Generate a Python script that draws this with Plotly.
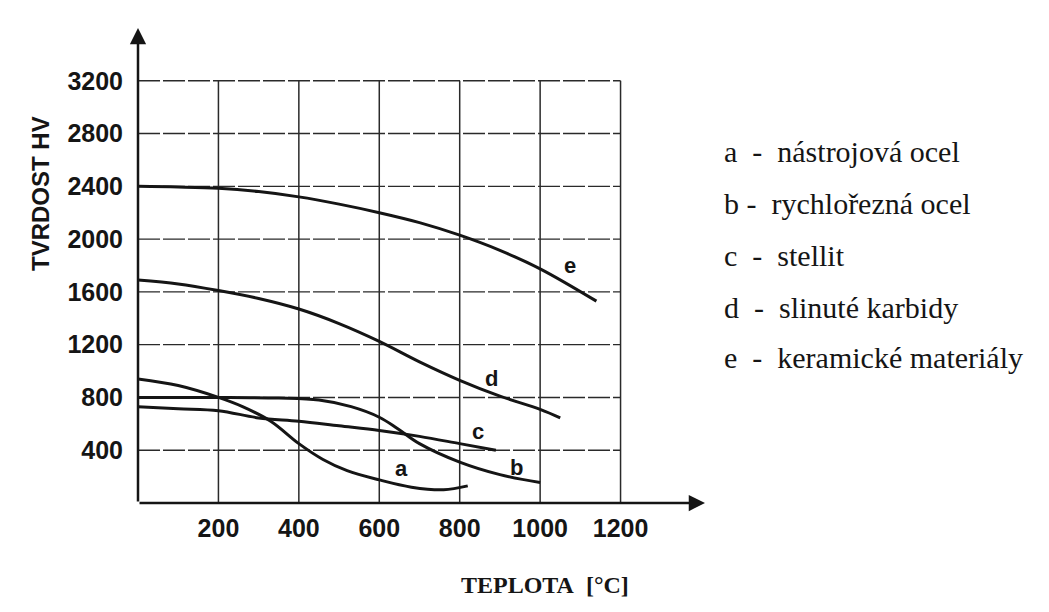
import plotly.graph_objects as go

# ---- data ----
a_x = [0, 100, 200, 260, 330, 400, 460, 520, 600, 680, 760, 820]
a_y = [940, 890, 800, 730, 620, 450, 330, 245, 175, 120, 100, 130]

b_x = [0, 200, 350, 450, 530, 600, 645, 700, 800, 900, 1000]
b_y = [800, 800, 795, 780, 730, 650, 565, 450, 310, 215, 155]

c_x = [0, 100, 200, 300, 400, 500, 600, 700, 800, 890]
c_y = [730, 715, 700, 645, 620, 585, 550, 505, 450, 400]

d_x = [0, 100, 200, 300, 400, 500, 600, 700, 800, 900, 1000, 1050]
d_y = [1690, 1660, 1610, 1550, 1470, 1360, 1225, 1070, 930, 810, 710, 645]

e_x = [0, 100, 200, 300, 400, 500, 600, 700, 800, 900, 1000, 1140]
e_y = [2400, 2395, 2385, 2360, 2320, 2265, 2200, 2125, 2030, 1915, 1775, 1530]

curve_names = ["a", "b", "c", "d", "e"]
label_x = [655, 940, 845, 880, 1075]
label_y = [260, 270, 540, 940, 1800]

x_ticks = [200, 400, 600, 800, 1000, 1200]
y_ticks = [400, 800, 1200, 1600, 2000, 2400, 2800, 3200]

legend_lines = [
    "a\u00a0\u00a0-\u00a0\u00a0nástrojová ocel",
    "b\u00a0-\u00a0\u00a0rychlořezná ocel",
    "c\u00a0\u00a0-\u00a0\u00a0stellit",
    "d\u00a0\u00a0-\u00a0\u00a0slinuté karbidy",
    "e\u00a0\u00a0-\u00a0\u00a0keramické materiály",
]

x_title = "TEPLOTA\u00a0\u00a0[°C]"
y_title = "TVRDOST HV"

X_MAX, Y_MAX = 1410, 3600
GRID_X_MAX, GRID_Y_MAX = 1200, 3200

INK = "#151515"
fig = go.Figure()

for xs, ys in [(a_x, a_y), (b_x, b_y), (c_x, c_y), (d_x, d_y), (e_x, e_y)]:
    fig.add_trace(go.Scatter(x=xs, y=ys, mode="lines",
                             line=dict(color=INK, width=3, shape="spline", smoothing=1.0),
                             showlegend=False, hoverinfo="skip"))

# grid
for gx in x_ticks:
    fig.add_shape(type="line", xref="x", yref="y", x0=gx, x1=gx, y0=0, y1=GRID_Y_MAX,
                  line=dict(color="#2a2a2a", width=1.5), layer="below")
for gy in y_ticks:
    fig.add_shape(type="line", xref="x", yref="y", x0=0, x1=GRID_X_MAX, y0=gy, y1=gy,
                  line=dict(color="#2a2a2a", width=1.4, dash="22px,3px"), layer="below")

# axes with arrows
fig.add_annotation(x=0, y=Y_MAX, ax=0, ay=0, xref="x", yref="y", axref="x", ayref="y",
                   text="", showarrow=True, arrowhead=2, arrowsize=1.3, arrowwidth=2.5,
                   arrowcolor=INK)
fig.add_annotation(x=X_MAX, y=0, ax=0, ay=0, xref="x", yref="y", axref="x", ayref="y",
                   text="", showarrow=True, arrowhead=2, arrowsize=1.3, arrowwidth=2.5,
                   arrowcolor=INK)

# curve labels
for name, lx, ly in zip(curve_names, label_x, label_y):
    fig.add_annotation(x=lx, y=ly, xref="x", yref="y", text=name, showarrow=False,
                       xanchor="center", yanchor="middle",
                       font=dict(family="Liberation Sans", size=22, color=INK, weight=700))

# legend text (right side)
PLOT_L, PLOT_R, PLOT_T, PLOT_B = 138, 705, 28, 503
pw, ph = PLOT_R - PLOT_L, PLOT_B - PLOT_T
leg_y_px = [152, 203, 255, 307, 357]
for txt, py in zip(legend_lines, leg_y_px):
    fig.add_annotation(x=(722 - PLOT_L) / pw, y=(PLOT_B - py) / ph, xref="paper", yref="paper",
                       xanchor="left", yanchor="middle", text=txt, showarrow=False,
                       font=dict(family="Liberation Serif", size=30, color=INK))

# axis titles
fig.add_annotation(x=(545 - PLOT_L) / pw, y=(PLOT_B - 585) / ph, xref="paper", yref="paper",
                   xanchor="center", yanchor="middle",
                   text=x_title, showarrow=False,
                   font=dict(family="Liberation Serif", size=24, color=INK, weight=700))
fig.add_annotation(x=(41 - PLOT_L) / pw, y=(PLOT_B - 194) / ph, xref="paper", yref="paper",
                   xanchor="center", yanchor="middle",
                   text=y_title, showarrow=False, textangle=-90,
                   font=dict(family="Liberation Sans", size=24, color=INK, weight=700))

tickfont = dict(family="Liberation Sans", size=25, color=INK, weight=700)
fig.update_layout(
    width=1049, height=612,
    margin=dict(l=PLOT_L, r=1049 - PLOT_R, t=PLOT_T, b=612 - PLOT_B),
    paper_bgcolor="white", plot_bgcolor="white",
    xaxis=dict(range=[0, X_MAX], tickvals=x_ticks, ticktext=[str(v) for v in x_ticks],
               showgrid=False, zeroline=False, showline=False, ticks="",
               tickfont=tickfont, ticklabelstandoff=8),
    yaxis=dict(range=[0, Y_MAX], tickvals=y_ticks, ticktext=[str(v) for v in y_ticks],
               showgrid=False, zeroline=False, showline=False, ticks="",
               tickfont=tickfont, ticklabelstandoff=14),
)

fig.write_html("out.html")
